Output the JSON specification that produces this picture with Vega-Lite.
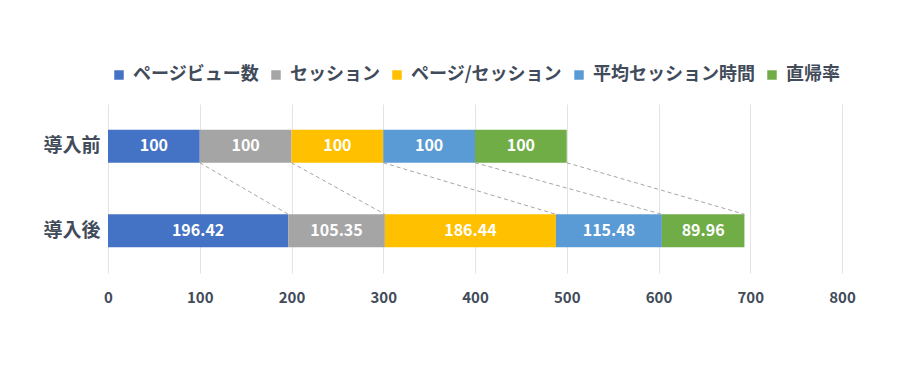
{
  "$schema": "https://vega.github.io/schema/vega-lite/v6.json",
  "width": 734,
  "height": 169,
  "autosize": {"type": "none"},
  "padding": {"left": 108, "top": 104, "right": 68, "bottom": 105},
  "background": "white",
  "config": {
    "view": {"stroke": null},
    "font": "Noto Sans CJK JP",
    "legend": {"layout": {"top": {"anchor": "middle"}}}
  },
  "data": {
    "values": [
      {"period": "導入前", "metric": "ページビュー数", "order": 1, "value": 100},
      {"period": "導入前", "metric": "セッション", "order": 2, "value": 100},
      {"period": "導入前", "metric": "ページ/セッション", "order": 3, "value": 100},
      {"period": "導入前", "metric": "平均セッション時間", "order": 4, "value": 100},
      {"period": "導入前", "metric": "直帰率", "order": 5, "value": 100},
      {"period": "導入後", "metric": "ページビュー数", "order": 1, "value": 196.42},
      {"period": "導入後", "metric": "セッション", "order": 2, "value": 105.35},
      {"period": "導入後", "metric": "ページ/セッション", "order": 3, "value": 186.44},
      {"period": "導入後", "metric": "平均セッション時間", "order": 4, "value": 115.48},
      {"period": "導入後", "metric": "直帰率", "order": 5, "value": 89.96}
    ]
  },
  "transform": [
    {"stack": "value", "groupby": ["period"], "sort": [{"field": "order", "order": "ascending"}], "as": ["x0", "x1"]}
  ],
  "layer": [
    {
      "mark": {"type": "bar", "height": {"band": 0.39}},
      "encoding": {
        "y": {
          "field": "period", "type": "nominal", "title": null,
          "scale": {"domain": ["導入前", "導入後"], "paddingInner": 0, "paddingOuter": 0},
          "axis": {"ticks": false, "domain": false, "labelFontSize": 19, "labelFontWeight": "bold", "labelColor": "#414b5a", "labelPadding": 8}
        },
        "x": {
          "field": "x0", "type": "quantitative", "title": null,
          "scale": {"domain": [0, 800], "nice": false},
          "axis": {"values": [0, 100, 200, 300, 400, 500, 600, 700, 800], "ticks": false, "domain": false, "labelFlush": false, "gridColor": "#e3e3e3", "labelFontSize": 15, "labelFontWeight": "bold", "labelColor": "#414b5a", "labelPadding": 17}
        },
        "x2": {"field": "x1"},
        "color": {
          "field": "metric", "type": "nominal",
          "scale": {
            "domain": ["ページビュー数", "セッション", "ページ/セッション", "平均セッション時間", "直帰率"],
            "range": ["#4472C4", "#A5A5A5", "#FFC000", "#5B9BD5", "#70AD47"]
          },
          "legend": {
            "orient": "top", "direction": "horizontal", "title": null,
            "symbolType": "square", "symbolSize": 90, "symbolStrokeWidth": 0,
            "labelFontSize": 18, "labelFontWeight": "bold", "labelColor": "#414b5a", "labelLimit": 400,
            "columnPadding": 8, "labelOffset": 5, "offset": 20
          }
        }
      }
    },
    {
      "transform": [
        {"pivot": "period", "value": "x1", "groupby": ["metric"]}
      ],
      "mark": {"type": "rule", "color": "#a6a6a6", "strokeWidth": 1, "strokeDash": [4, 3]},
      "encoding": {
        "x": {"field": "導入前", "type": "quantitative"},
        "x2": {"field": "導入後"},
        "y": {"datum": "導入前", "type": "nominal", "bandPosition": 0.695},
        "y2": {"datum": "導入後", "bandPosition": 0.305}
      }
    },
    {
      "transform": [
        {"calculate": "(datum.x0 + datum.x1) / 2", "as": "mid"}
      ],
      "mark": {"type": "text", "color": "white", "fontSize": 16, "fontWeight": "bold", "baseline": "middle", "align": "center"},
      "encoding": {
        "x": {"field": "mid", "type": "quantitative"},
        "y": {"field": "period", "type": "nominal"},
        "text": {"field": "value", "type": "quantitative", "format": ".2~f"}
      }
    }
  ]
}
